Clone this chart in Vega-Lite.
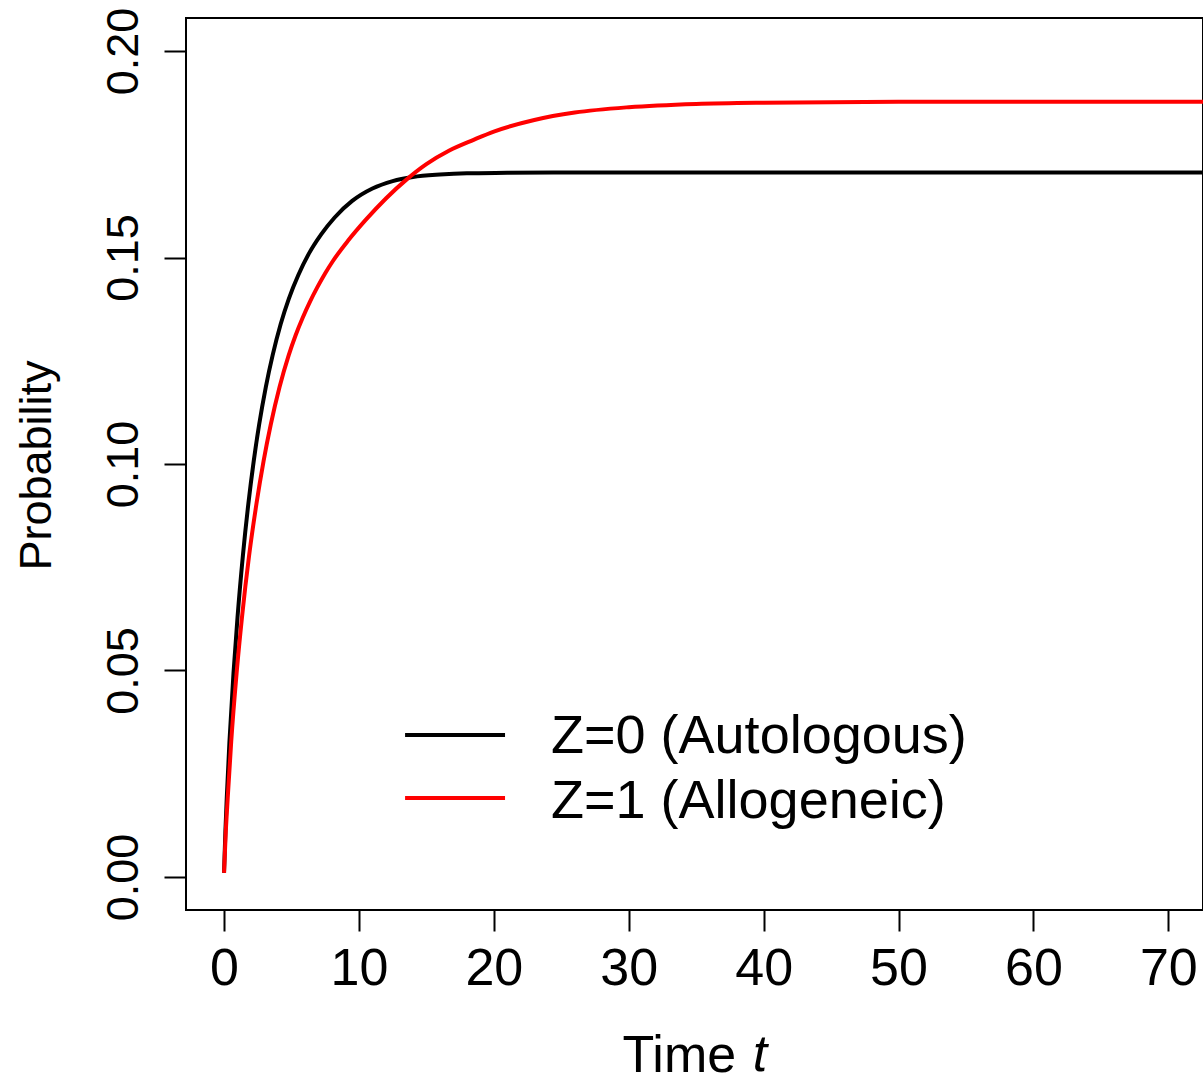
{
  "$schema": "https://vega.github.io/schema/vega-lite/v6.json",
  "width": 1017,
  "height": 892,
  "autosize": {"type": "none"},
  "padding": {"left": 186, "top": 18, "right": 0, "bottom": 173},
  "background": "white",
  "config": {
    "font": "Liberation Sans",
    "view": {"stroke": "black", "strokeWidth": 2},
    "axis": {
      "grid": false,
      "domain": false,
      "ticks": true,
      "tickColor": "black",
      "tickWidth": 2,
      "labelColor": "black",
      "titleColor": "black",
      "titleFontWeight": "normal",
      "labelFont": "Liberation Sans",
      "titleFont": "Liberation Sans",
      "labelFlush": false,
      "labelOverlap": false
    }
  },
  "datasets": {
    "curves": [
      {"t": 0, "p": 0.001, "group": "Z=0 (Autologous)"},
      {"t": 0.1, "p": 0.011, "group": "Z=0 (Autologous)"},
      {"t": 0.2, "p": 0.019, "group": "Z=0 (Autologous)"},
      {"t": 0.4, "p": 0.0327, "group": "Z=0 (Autologous)"},
      {"t": 0.7, "p": 0.0493, "group": "Z=0 (Autologous)"},
      {"t": 1.0, "p": 0.0629, "group": "Z=0 (Autologous)"},
      {"t": 1.4, "p": 0.0779, "group": "Z=0 (Autologous)"},
      {"t": 1.8, "p": 0.0903, "group": "Z=0 (Autologous)"},
      {"t": 2.2, "p": 0.1007, "group": "Z=0 (Autologous)"},
      {"t": 2.6, "p": 0.1095, "group": "Z=0 (Autologous)"},
      {"t": 3.1, "p": 0.1187, "group": "Z=0 (Autologous)"},
      {"t": 3.6, "p": 0.1263, "group": "Z=0 (Autologous)"},
      {"t": 4.2, "p": 0.1339, "group": "Z=0 (Autologous)"},
      {"t": 4.8, "p": 0.1400, "group": "Z=0 (Autologous)"},
      {"t": 5.5, "p": 0.1457, "group": "Z=0 (Autologous)"},
      {"t": 6.3, "p": 0.1510, "group": "Z=0 (Autologous)"},
      {"t": 7.2, "p": 0.1556, "group": "Z=0 (Autologous)"},
      {"t": 8.2, "p": 0.1597, "group": "Z=0 (Autologous)"},
      {"t": 9.5, "p": 0.1637, "group": "Z=0 (Autologous)"},
      {"t": 11, "p": 0.1667, "group": "Z=0 (Autologous)"},
      {"t": 12.5, "p": 0.1685, "group": "Z=0 (Autologous)"},
      {"t": 14, "p": 0.1695, "group": "Z=0 (Autologous)"},
      {"t": 16, "p": 0.1701, "group": "Z=0 (Autologous)"},
      {"t": 18, "p": 0.1704, "group": "Z=0 (Autologous)"},
      {"t": 21, "p": 0.1705, "group": "Z=0 (Autologous)"},
      {"t": 25, "p": 0.1706, "group": "Z=0 (Autologous)"},
      {"t": 30, "p": 0.1706, "group": "Z=0 (Autologous)"},
      {"t": 40, "p": 0.1706, "group": "Z=0 (Autologous)"},
      {"t": 50, "p": 0.1706, "group": "Z=0 (Autologous)"},
      {"t": 60, "p": 0.1706, "group": "Z=0 (Autologous)"},
      {"t": 75, "p": 0.1706, "group": "Z=0 (Autologous)"},
      {"t": 0, "p": 0.001, "group": "Z=1 (Allogeneic)"},
      {"t": 0.13, "p": 0.011, "group": "Z=1 (Allogeneic)"},
      {"t": 0.27, "p": 0.019, "group": "Z=1 (Allogeneic)"},
      {"t": 0.53, "p": 0.0327, "group": "Z=1 (Allogeneic)"},
      {"t": 0.93, "p": 0.0493, "group": "Z=1 (Allogeneic)"},
      {"t": 1.33, "p": 0.0629, "group": "Z=1 (Allogeneic)"},
      {"t": 1.86, "p": 0.0779, "group": "Z=1 (Allogeneic)"},
      {"t": 2.4, "p": 0.0903, "group": "Z=1 (Allogeneic)"},
      {"t": 2.93, "p": 0.1007, "group": "Z=1 (Allogeneic)"},
      {"t": 3.46, "p": 0.1095, "group": "Z=1 (Allogeneic)"},
      {"t": 4.12, "p": 0.1187, "group": "Z=1 (Allogeneic)"},
      {"t": 4.79, "p": 0.1263, "group": "Z=1 (Allogeneic)"},
      {"t": 5.3, "p": 0.1311, "group": "Z=1 (Allogeneic)"},
      {"t": 5.83, "p": 0.1354, "group": "Z=1 (Allogeneic)"},
      {"t": 6.4, "p": 0.1395, "group": "Z=1 (Allogeneic)"},
      {"t": 6.9, "p": 0.1427, "group": "Z=1 (Allogeneic)"},
      {"t": 7.5, "p": 0.1462, "group": "Z=1 (Allogeneic)"},
      {"t": 8.06, "p": 0.1491, "group": "Z=1 (Allogeneic)"},
      {"t": 9.2, "p": 0.1541, "group": "Z=1 (Allogeneic)"},
      {"t": 10.5, "p": 0.1591, "group": "Z=1 (Allogeneic)"},
      {"t": 12, "p": 0.1643, "group": "Z=1 (Allogeneic)"},
      {"t": 13.5, "p": 0.1688, "group": "Z=1 (Allogeneic)"},
      {"t": 15, "p": 0.1726, "group": "Z=1 (Allogeneic)"},
      {"t": 16.7, "p": 0.1759, "group": "Z=1 (Allogeneic)"},
      {"t": 18.5, "p": 0.1785, "group": "Z=1 (Allogeneic)"},
      {"t": 20, "p": 0.1805, "group": "Z=1 (Allogeneic)"},
      {"t": 23, "p": 0.1833, "group": "Z=1 (Allogeneic)"},
      {"t": 26, "p": 0.1851, "group": "Z=1 (Allogeneic)"},
      {"t": 30, "p": 0.1864, "group": "Z=1 (Allogeneic)"},
      {"t": 35, "p": 0.1872, "group": "Z=1 (Allogeneic)"},
      {"t": 40, "p": 0.1875, "group": "Z=1 (Allogeneic)"},
      {"t": 50, "p": 0.1877, "group": "Z=1 (Allogeneic)"},
      {"t": 60, "p": 0.1877, "group": "Z=1 (Allogeneic)"},
      {"t": 75, "p": 0.1877, "group": "Z=1 (Allogeneic)"}
    ]
  },
  "layer": [
    {
      "data": {"name": "curves"},
      "mark": {"type": "line", "strokeWidth": 4, "clip": true, "interpolate": "monotone"},
      "encoding": {
        "x": {
          "field": "t", "type": "quantitative",
          "scale": {"domain": [-2.82, 72.57], "nice": false, "zero": false},
          "axis": {
            "values": [0, 10, 20, 30, 40, 50, 60, 70],
            "tickSize": 21,
            "labelFontSize": 52,
            "labelPadding": 12,
            "labelBaseline": "top",
            "title": "Time",
            "titleFontSize": 52,
            "titleAlign": "left",
            "titleBaseline": "alphabetic",
            "titleX": 436,
            "titleY": 161
          }
        },
        "y": {
          "field": "p", "type": "quantitative",
          "scale": {"domain": [-0.008, 0.208], "nice": false, "zero": false},
          "axis": {
            "values": [0, 0.05, 0.1, 0.15, 0.2],
            "format": ".2f",
            "tickSize": 22,
            "labelFontSize": 45,
            "labelAngle": -90,
            "labelAlign": "center",
            "labelBaseline": "alphabetic",
            "labelPadding": 27,
            "title": "Probability",
            "titleFontSize": 45,
            "titleAngle": -90,
            "titleAlign": "center",
            "titleBaseline": "alphabetic",
            "titleX": -136,
            "titleY": 447
          }
        },
        "color": {
          "field": "group", "type": "nominal",
          "scale": {"domain": ["Z=0 (Autologous)", "Z=1 (Allogeneic)"], "range": ["black", "red"]},
          "legend": null
        }
      }
    },
    {
      "data": {"values": [{"group": "Z=0 (Autologous)"}]},
      "mark": {"type": "rule", "strokeWidth": 4, "color": "black"},
      "encoding": {
        "x": {"datum": 13.42, "type": "quantitative"},
        "x2": {"datum": 20.83},
        "y": {"datum": 0.0344, "type": "quantitative"}
      }
    },
    {
      "data": {"values": [{"group": "Z=1 (Allogeneic)"}]},
      "mark": {"type": "rule", "strokeWidth": 4, "color": "red"},
      "encoding": {
        "x": {"datum": 13.42, "type": "quantitative"},
        "x2": {"datum": 20.83},
        "y": {"datum": 0.0191, "type": "quantitative"}
      }
    },
    {
      "data": {"values": [{"label": "Z=0 (Autologous)"}]},
      "mark": {"type": "text", "align": "left", "baseline": "alphabetic", "fontSize": 54, "color": "black", "font": "Liberation Sans"},
      "encoding": {
        "x": {"datum": 24.24, "type": "quantitative"},
        "y": {"datum": 0.0300, "type": "quantitative"},
        "text": {"field": "label"}
      }
    },
    {
      "data": {"values": [{"label": "Z=1 (Allogeneic)"}]},
      "mark": {"type": "text", "align": "left", "baseline": "alphabetic", "fontSize": 54, "color": "black", "font": "Liberation Sans"},
      "encoding": {
        "x": {"datum": 24.24, "type": "quantitative"},
        "y": {"datum": 0.0143, "type": "quantitative"},
        "text": {"field": "label"}
      }
    },
    {
      "data": {"values": [{"label": "t"}]},
      "mark": {"type": "text", "align": "left", "baseline": "alphabetic", "fontSize": 52, "fontStyle": "italic", "color": "black", "font": "Liberation Sans"},
      "encoding": {
        "x": {"datum": 39.2, "type": "quantitative"},
        "y": {"datum": -0.04697, "type": "quantitative"},
        "text": {"field": "label"}
      }
    }
  ]
}
